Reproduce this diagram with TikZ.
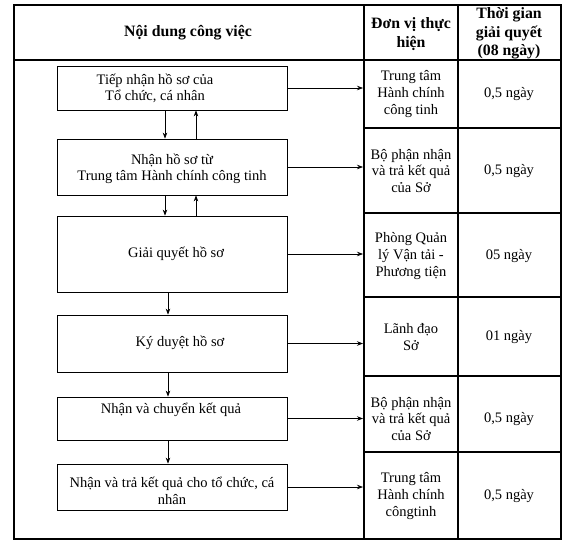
\documentclass[tikz,border=0pt]{standalone}
\usepackage{fontspec}
\setmainfont{Liberation Serif}
\usetikzlibrary{arrows.meta,calc}
\begin{document}
\begin{tikzpicture}[x=1pt,y=-1pt,
  box/.style={draw=black,line width=0.8pt,minimum width=230pt,inner sep=0pt},
  txt/.style={font=\fontsize{14.5}{16.6}\selectfont,align=center,inner sep=0pt},
  hdr/.style={font=\fontsize{15.8}{18.5}\selectfont\bfseries,align=center,inner sep=0pt},
  rule/.style={line width=1.1pt,black},
  arr/.style={line width=0.7pt,-{Stealth[length=6pt,width=4.5pt]}}]
\useasboundingbox (0,0) rectangle (576,552);
% table frame
\draw[rule] (14,5) rectangle (561,539);
\draw[rule] (14,60) -- (561,60);
\draw[rule] (364,5) -- (364,539);
\draw[rule] (458,5) -- (458,539);
\foreach \yy in {128,213,297,376,452} \draw[rule] (364,\yy) -- (561,\yy);
% headers
\node[hdr] (h1) at (188,33) {Nội dung công việc};
\node[hdr] (h2) at (411,34) {Đơn vị thực\\hiện};
\node[hdr] (h3) at (509,33.5) {Thời gian\\giải quyết\\(08 ngày)};
% boxes
\node[box,minimum height=44pt] (b1) at (172,88) {};
\node[txt] (t1) at (155,88.5) {Tiếp nhận hồ sơ của\\Tổ chức, cá nhân};
\node[box,minimum height=56pt] (b2) at (172,167) {};
\node[txt] (t2) at (172,169) {Nhận hồ sơ từ\\Trung tâm Hành chính công tinh};
\node[box,minimum height=76pt] (b3) at (172,254) {};
\node[txt] (t3) at (176,254) {Giải quyết hồ sơ};
\node[box,minimum height=57pt] (b4) at (172,343.5) {};
\node[txt] (t4) at (180,343) {Ký duyệt hồ sơ};
\node[box,minimum height=43pt] (b5) at (172,418.5) {};
\node[txt] (t5) at (171,410) {Nhận và chuyển kết quả};
\node[box,minimum height=46pt] (b6) at (172,487) {};
\node[txt] (t6) at (172,491) {Nhận và trả kết quả cho tổ chức, cá\\nhân};
% column 2 and 3 texts
\node[txt] (u1) at (411,94) {Trung tâm\\Hành chính\\công tinh};
\node[txt] (d1) at (509,94) {0,5 ngày};
\node[txt] (u2) at (411,171) {Bộ phận nhận\\và trả kết quả\\của Sở};
\node[txt] (d2) at (509,171) {0,5 ngày};
\node[txt] (u3) at (411,256) {Phòng Quản\\lý Vận tải -\\Phương tiện};
\node[txt] (d3) at (509,256) {05 ngày};
\node[txt] (u4) at (411,337) {Lãnh đạo\\Sở};
\node[txt] (d4) at (509,337) {01 ngày};
\node[txt] (u5) at (411,419) {Bộ phận nhận\\và trả kết quả\\của Sở};
\node[txt] (d5) at (509,419) {0,5 ngày};
\node[txt] (u6) at (411,496) {Trung tâm\\Hành chính\\côngtinh};
\node[txt] (d6) at (509,496) {0,5 ngày};
% arrow anchors
\coordinate (cx) at (363,0);
\coordinate (xa) at (165,0);
\coordinate (xb) at (196,0);
\coordinate (xc) at (168,0);
% right arrows
\foreach \b in {b1,b2,b3,b4,b5,b6}
  \draw[arr] (\b.east) -- (\b.east -| cx);
% vertical arrows
\draw[arr] (b1.south -| xa) -- (b2.north -| xa);
\draw[arr] (b2.north -| xb) -- (b1.south -| xb);
\draw[arr] (b2.south -| xa) -- (b3.north -| xa);
\draw[arr] (b3.north -| xb) -- (b2.south -| xb);
\draw[arr] (b3.south -| xc) -- (b4.north -| xc);
\draw[arr] (b4.south -| xc) -- (b5.north -| xc);
\draw[arr] (b5.south -| xc) -- (b6.north -| xc);
\end{tikzpicture}
\end{document}
